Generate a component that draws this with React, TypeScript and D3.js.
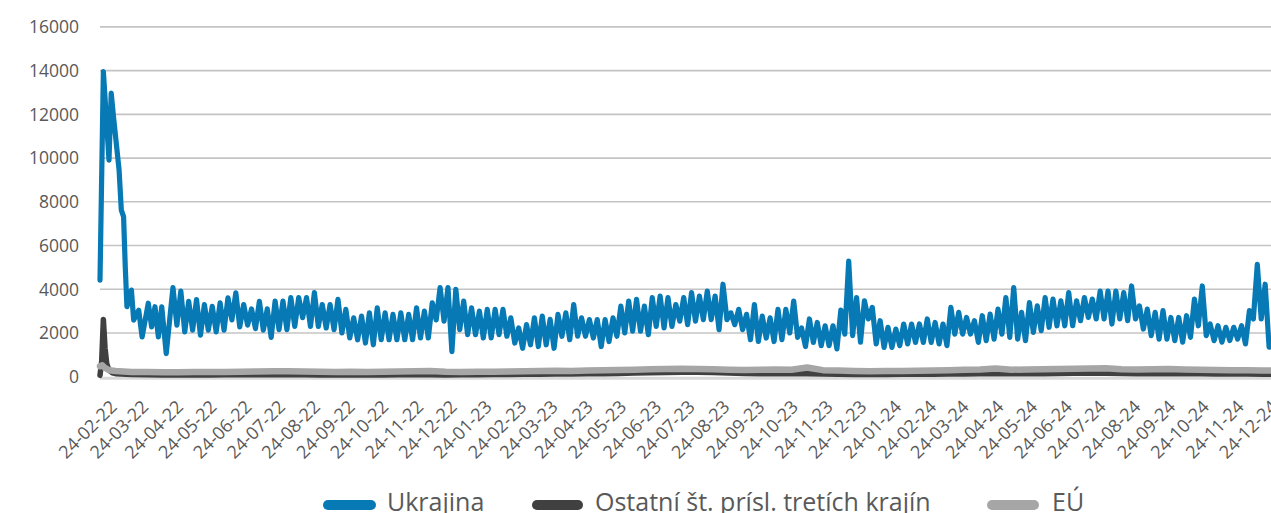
import React from 'react';
import * as d3 from 'd3';

// ---- data ----
const START = Date.UTC(2022, 1, 24);
const DAY = 864e5;
const LAST_DAY = 1041.5;

const yTicks = [0, 2000, 4000, 6000, 8000, 10000, 12000, 14000, 16000];

// early period: [day offset, value]
const ukrajinaEarly: [number, number][] = [
  [0, 4420], [3, 13950], [8, 9910], [10, 12970], [12, 11900], [17, 9450], [19, 7620],
  [21, 7320], [22.5, 5030], [24, 3200], [28, 3960], [30, 2590], [34.5, 3040], [37.5, 1820],
  [43, 3360], [46, 2280], [49, 3200], [52, 1820], [55, 3200], [59, 1060],
];
// weekly highs (day 65 + 7k) and lows (day 68.5 + 7k)
const ukrajinaHighs = [
  4080, 3920, 3450, 3530, 3300, 3220, 3380, 3610, 3840, 3300,
  3100, 3450, 3100, 3460, 3460, 3620, 3620, 3620, 3850, 3300,
  3300, 3540, 3080, 2690, 2770, 2920, 3150, 2920, 2850, 2920,
  2850, 3150, 3000, 3380, 4080, 4080, 4000, 3460, 3150, 3000,
  3080, 3080, 3080, 2690, 2230, 2380, 2690, 2770, 2620, 2850,
  2920, 3300, 2690, 2610, 2610, 2610, 2690, 3230, 3460, 3540,
  3230, 3620, 3690, 3620, 3300, 3620, 3850, 3690, 3920, 3690,
  4230, 2920, 3080, 2850, 3300, 2770, 2690, 3080, 3080, 3460,
  2230, 2640, 2480, 2330, 2330, 3050, 5290, 3620, 3470, 3170,
  2560, 2260, 2180, 2410, 2410, 2410, 2640, 2480, 2410, 3170,
  2940, 2710, 2560, 2790, 2860, 3090, 3620, 4080, 2940, 3390,
  3240, 3620, 3550, 3470, 3850, 3470, 3620, 3550, 3920, 3920,
  3920, 3850, 4150, 3240, 3090, 2940, 3020, 2710, 2710, 2790,
  3550, 4150, 2410, 2330, 2260, 2260, 2330, 3020, 5140, 4230,
];
const ukrajinaLows = [
  2360, 2050, 2130, 1900, 2130, 2050, 2130, 2600, 2280, 2360,
  2200, 2130, 1800, 2150, 2150, 2300, 2700, 2300, 2300, 2230,
  2150, 2000, 1770, 1690, 1540, 1460, 1690, 1690, 1690, 1690,
  1690, 1770, 1770, 2600, 2540, 1150, 2150, 1920, 1920, 1770,
  1770, 1920, 1850, 1540, 1300, 1460, 1380, 1460, 1300, 1850,
  1690, 1850, 1850, 1770, 1380, 1610, 1850, 2000, 2080, 2080,
  1920, 2300, 2230, 2300, 2540, 2380, 2540, 2610, 2610, 2150,
  2610, 2380, 2150, 1690, 1610, 1770, 1610, 1690, 2000, 1800,
  1380, 1570, 1420, 1420, 1270, 1950, 1880, 1580, 2640, 1500,
  1340, 1340, 1420, 1500, 1570, 1570, 1570, 1500, 1420, 1950,
  1950, 1950, 1570, 1650, 1720, 1950, 1800, 1720, 1650, 2030,
  2110, 2260, 2330, 2330, 2330, 2560, 2710, 2640, 2640, 2410,
  2640, 2560, 2640, 2180, 1880, 1720, 1720, 1650, 1580, 1800,
  2330, 1880, 1650, 1580, 1650, 1720, 1500, 2640, 2640, 1350,
];

const ostatneEarly: [number, number][] = [
  [0, 60], [1.5, 700], [3, 2620], [4.5, 1300], [6, 600], [8, 300], [11, 180],
];
// every 14 days from day 14
const ostatne14 = [
  140, 100, 90, 80, 80, 80, 80, 90, 90, 90,
  90, 90, 90, 80, 80, 80, 80, 80, 90, 90,
  90, 80, 90, 90, 100, 100, 110, 110, 120, 120,
  130, 140, 150, 170, 180, 190, 200, 200, 190, 170,
  150, 140, 140, 130, 140, 120, 110, 100, 100, 100,
  110, 110, 110, 120, 120, 130, 130, 130, 140, 140,
  150, 160, 160, 160, 150, 140, 140, 130, 130, 130,
  120, 120, 120, 110, 110,
];

const euEarly: [number, number][] = [
  [0, 480], [2, 520], [4, 420], [7, 330], [10, 280],
];
const eu14 = [
  260, 220, 210, 200, 200, 210, 210, 220, 230, 240,
  250, 250, 240, 230, 220, 230, 220, 230, 240, 250,
  260, 230, 220, 230, 230, 240, 250, 260, 270, 260,
  280, 300, 310, 320, 340, 350, 360, 350, 340, 320,
  310, 320, 330, 320, 420, 300, 280, 260, 250, 260,
  260, 270, 280, 300, 320, 330, 380, 320, 330, 340,
  350, 360, 380, 390, 340, 330, 340, 350, 330, 320,
  310, 300, 300, 280, 290,
];

const seriesNames = ['Ukrajina', 'Ostatní št. prísl. tretích krajín', 'EÚ'];
const seriesColors = ['#0779B5', '#404040', '#A6A6A6'];
const seriesWidths = [5.2, 5.5, 6.5];

// ---- build point lists ----
const ukrajinaPts: [number, number][] = [...ukrajinaEarly];
ukrajinaHighs.forEach((v, k) => {
  ukrajinaPts.push([65 + 7 * k, v]);
  ukrajinaPts.push([68.5 + 7 * k, ukrajinaLows[k]]);
});
const ostatnePts: [number, number][] = [...ostatneEarly, ...ostatne14.map((v, k) => [14 + 14 * k, v] as [number, number])];
const euPts: [number, number][] = [...euEarly, ...eu14.map((v, k) => [14 + 14 * k, v] as [number, number])];
const allSeries = [ukrajinaPts, ostatnePts, euPts];

const xTickDates = d3.range(0, 35).map((m) => new Date(Date.UTC(2022, 1 + m, 24)));

export default function App() {
  const W = 1271;
  const H = 513;
  const x0 = 100;
  const pxPerDay = 1.1225;
  const x = d3
    .scaleUtc()
    .domain([new Date(START), new Date(START + LAST_DAY * DAY)])
    .range([x0, x0 + LAST_DAY * pxPerDay]);
  const y = d3.scaleLinear().domain([0, 16000]).range([376.7, 26.9]);
  const fmt = d3.utcFormat('%d-%m-%y');
  const line = d3
    .line<[number, number]>()
    .x((d) => x(new Date(START + d[0] * DAY)))
    .y((d) => y(d[1]));

  const font = "'Open Sans', 'DejaVu Sans', sans-serif";
  const textColor = '#595959';

  const legendX = [
    { l1: 328, l2: 371, t: 387 },
    { l1: 537, l2: 578, t: 595 },
    { l1: 992, l2: 1034, t: 1052 },
  ];

  return (
    <svg
      width={W}
      height={H}
      style={{ position: 'absolute', left: 0, top: 0, background: '#fff' }}
      fontFamily={font}
    >
      {yTicks.filter((t) => t > 0).map((t) => (
        <line key={t} x1={x0} x2={W} y1={y(t)} y2={y(t)} stroke="#C4C4C4" strokeWidth={1.6} />
      ))}
      <line x1={x0} x2={W} y1={y(0) + 1.5} y2={y(0) + 1.5} stroke="#D9D9D9" strokeWidth={3} />
      {yTicks.map((t) => (
        <text key={t} x={79} y={y(t) + 6.3} textAnchor="end" fontSize={17.5} fill={textColor}>
          {t}
        </text>
      ))}
      {xTickDates.map((d, i) => (
        <text
          key={i}
          transform={`translate(${x(d) + 18},408) rotate(-45)`}
          textAnchor="end"
          fontSize={18}
          fill={textColor}
        >
          {fmt(d)}
        </text>
      ))}
      {allSeries.map((pts, i) => (
        <path
          key={i}
          d={line(pts) || ''}
          fill="none"
          stroke={seriesColors[i]}
          strokeWidth={seriesWidths[i]}
          strokeLinejoin="round"
          strokeLinecap="round"
        />
      ))}
      {seriesNames.map((n, i) => (
        <g key={n}>
          <line
            x1={legendX[i].l1}
            x2={legendX[i].l2}
            y1={505}
            y2={505}
            stroke={seriesColors[i]}
            strokeWidth={10}
            strokeLinecap="round"
          />
          <text x={legendX[i].t} y={511} fontSize={25} fill={textColor}>
            {n}
          </text>
        </g>
      ))}
    </svg>
  );
}
